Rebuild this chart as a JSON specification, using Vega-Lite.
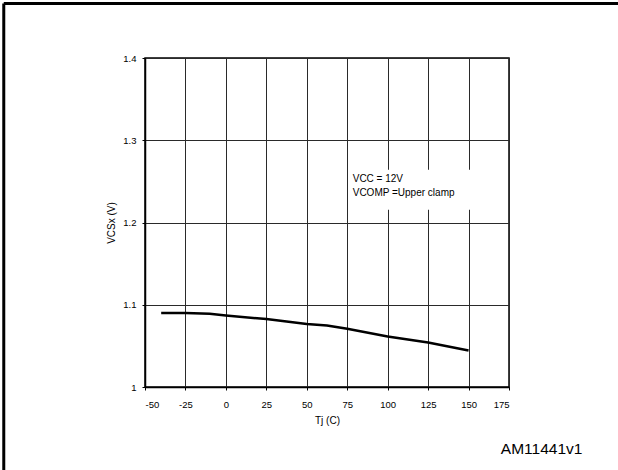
{
  "$schema": "https://vega.github.io/schema/vega-lite/v6.json",
  "width": 364,
  "height": 329,
  "autosize": {"type": "none"},
  "padding": {"left": 145, "top": 58, "right": 109, "bottom": 83},
  "background": "white",
  "config": {
    "font": "Liberation Sans",
    "view": {"stroke": "#000", "strokeWidth": 1.5},
    "axis": {
      "domainColor": "#000",
      "domainWidth": 1.5,
      "tickColor": "#000",
      "tickSize": 3,
      "tickWidth": 1,
      "gridColor": "#2a2a2a",
      "gridWidth": 1,
      "gridOpacity": 1,
      "labelFontSize": 9.5,
      "labelColor": "#000",
      "titleFontSize": 10,
      "titleFontWeight": "normal",
      "titleColor": "#000"
    }
  },
  "datasets": {
    "curve": [
      {"tj": -40, "vcs": 1.090},
      {"tj": -25, "vcs": 1.090},
      {"tj": -10, "vcs": 1.089},
      {"tj": 0, "vcs": 1.087},
      {"tj": 25, "vcs": 1.0826},
      {"tj": 50, "vcs": 1.0765},
      {"tj": 62.5, "vcs": 1.0748},
      {"tj": 75, "vcs": 1.0708},
      {"tj": 100, "vcs": 1.0615},
      {"tj": 125, "vcs": 1.0542},
      {"tj": 150, "vcs": 1.0445}
    ],
    "note": [
      {"label": ["VCC = 12V", "VCOMP =Upper clamp"]}
    ],
    "code": [
      {"label": "AM11441v1"}
    ]
  },
  "layer": [
    {
      "data": {"name": "curve"},
      "mark": {"type": "line", "color": "#000", "strokeWidth": 2.5},
      "encoding": {
        "x": {
          "field": "tj",
          "type": "quantitative",
          "title": "Tj (C)",
          "scale": {"domain": [-50, 175], "zero": false, "nice": false},
          "axis": {
            "values": [-50, -25, 0, 25, 50, 75, 100, 125, 150, 175],
            "labelExpr": "datum.value + ''",
            "labelPadding": 9,
            "titlePadding": 7
          }
        },
        "y": {
          "field": "vcs",
          "type": "quantitative",
          "title": "VCSx (V)",
          "scale": {"domain": [1, 1.4], "zero": false, "nice": false},
          "axis": {
            "values": [1, 1.1, 1.2, 1.3, 1.4],
            "format": ".2~f",
            "labelPadding": 6,
            "titlePadding": 6
          }
        }
      }
    },
    {
      "data": {"values": [{}]},
      "mark": {"type": "rect", "color": "white"},
      "encoding": {
        "x": {"datum": 76.5, "type": "quantitative", "title": "Tj (C)"},
        "x2": {"datum": 166},
        "y": {"datum": 1.2154, "type": "quantitative", "title": "VCSx (V)"},
        "y2": {"datum": 1.264}
      }
    },
    {
      "data": {"name": "note"},
      "mark": {"type": "text", "align": "left", "baseline": "alphabetic", "fontSize": 10, "lineHeight": 14, "color": "#000"},
      "encoding": {
        "x": {"datum": 78.4, "type": "quantitative", "title": "Tj (C)"},
        "y": {"datum": 1.2495, "type": "quantitative", "title": "VCSx (V)"},
        "text": {"field": "label"}
      }
    },
    {
      "data": {"name": "code"},
      "mark": {"type": "text", "align": "right", "baseline": "alphabetic", "fontSize": 15.5, "color": "#000", "clip": false},
      "encoding": {
        "x": {"datum": 220.4, "type": "quantitative", "title": "Tj (C)"},
        "y": {"datum": 0.919, "type": "quantitative", "title": "VCSx (V)"},
        "text": {"field": "label"}
      }
    },
    {
      "data": {"values": [{}]},
      "mark": {"type": "rule", "color": "#000", "strokeWidth": 3, "clip": false},
      "encoding": {
        "x": {"datum": -137.3, "type": "quantitative", "title": "Tj (C)"},
        "x2": {"datum": 245},
        "y": {"datum": 1.4663, "type": "quantitative", "title": "VCSx (V)"}
      }
    },
    {
      "data": {"values": [{}]},
      "mark": {"type": "rule", "color": "#000", "strokeWidth": 3, "clip": false},
      "encoding": {
        "x": {"datum": -137.3, "type": "quantitative", "title": "Tj (C)"},
        "y": {"datum": 1.4663, "type": "quantitative", "title": "VCSx (V)"},
        "y2": {"datum": 0.89}
      }
    }
  ]
}
